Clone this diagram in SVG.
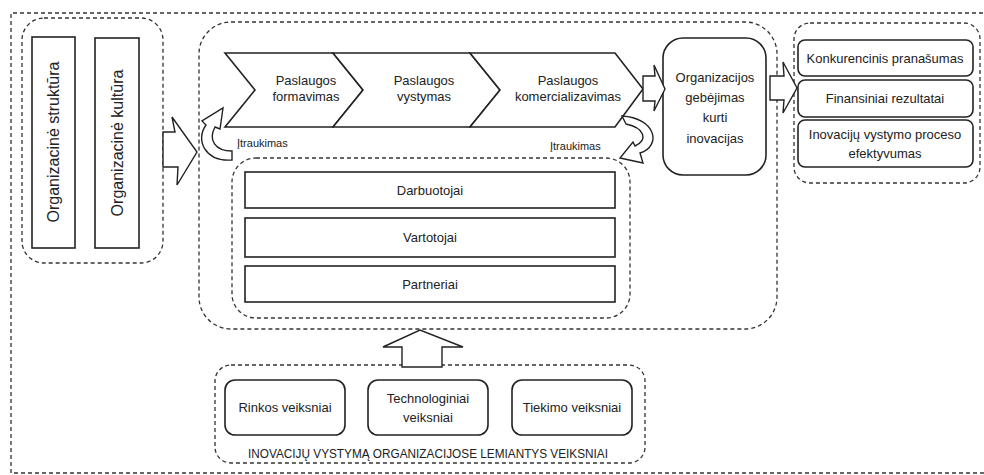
<svg xmlns="http://www.w3.org/2000/svg" width="984" height="475" viewBox="0 0 984 475">
<style>
.bg{fill:#ffffff}
.dash{fill:none;stroke:#333;stroke-width:1.3;stroke-dasharray:4 3}
.box{fill:#fff;stroke:#222;stroke-width:1.6}
.arr{fill:#fff;stroke:#222;stroke-width:1.4;stroke-linejoin:miter}
text{font-family:"Liberation Sans",Arial,sans-serif;fill:#222;font-size:13px;text-anchor:middle}
.small{font-size:11px;text-anchor:start}
.vert{font-size:16px}
</style>
<rect class="bg" x="0" y="0" width="984" height="475"/>
<g id="frame">
<path class="dash" d="M 990 13 H 11 V 473 H 990"/>
</g>
<g id="org-factors">
<rect class="dash" x="22" y="18" width="141" height="245" rx="22"/>
<g id="struktura">
<rect class="box" x="32" y="37" width="43" height="211"/>
<text class="vert" transform="translate(59 142) rotate(-90)">Organizacinė struktūra</text>
</g>
<g id="kultura">
<rect class="box" x="95" y="38" width="44" height="210"/>
<text class="vert" transform="translate(123 143) rotate(-90)">Organizacinė kultūra</text>
</g>
</g>
<g id="process-group">
<rect class="dash" x="199" y="22" width="578" height="307" rx="32"/>
</g>
<g id="formavimas">
<polygon class="box" points="225,53 333,53 363,90 333,127 225,127 255,90"/>
<text x="306" y="85">Paslaugos</text>
<text x="306" y="101">formavimas</text>
</g>
<g id="vystymas">
<polygon class="box" points="333,53 470,53 500,90 470,127 333,127 363,90"/>
<text x="424" y="85">Paslaugos</text>
<text x="424" y="101">vystymas</text>
</g>
<g id="komercializavimas">
<polygon class="box" points="470,53 615,53 643,89 615,127 470,127 500,90"/>
<text x="568" y="85">Paslaugos</text>
<text x="568" y="101">komercializavimas</text>
</g>
<g id="gebejimas">
<rect class="box" x="663" y="38" width="103" height="137" rx="20"/>
<text x="715" y="82">Organizacijos</text>
<text x="715" y="102">gebėjimas</text>
<text x="715" y="122">kurti</text>
<text x="715" y="143">inovacijas</text>
</g>
<g id="participants">
<rect class="dash" x="232" y="158" width="398" height="160" rx="24"/>
<g id="darbuotojai">
<rect class="box" x="245" y="172" width="370" height="36"/>
<text x="430" y="195">Darbuotojai</text>
</g>
<g id="vartotojai">
<rect class="box" x="245" y="218" width="370" height="39"/>
<text x="430" y="242">Vartotojai</text>
</g>
<g id="partneriai">
<rect class="box" x="245" y="266" width="370" height="36"/>
<text x="430" y="289">Partneriai</text>
</g>
</g>
<g id="results">
<rect class="dash" x="794" y="23" width="186" height="160" rx="16"/>
<g id="konkurencinis">
<rect class="box" x="798" y="40" width="175" height="36" rx="7"/>
<text x="885" y="63">Konkurencinis pranašumas</text>
</g>
<g id="finansiniai">
<rect class="box" x="798" y="80" width="175" height="37" rx="7"/>
<text x="885" y="103">Finansiniai rezultatai</text>
</g>
<g id="efektyvumas">
<rect class="box" x="798" y="120" width="175" height="47" rx="7"/>
<text x="885" y="139">Inovacijų vystymo proceso</text>
<text x="885" y="158">efektyvumas</text>
</g>
</g>
<g id="external-factors">
<rect class="dash" x="215" y="365" width="430" height="98" rx="16"/>
<g id="rinkos">
<rect class="box" x="225" y="380" width="120" height="55" rx="10"/>
<text x="285" y="412">Rinkos veiksniai</text>
</g>
<g id="technologiniai">
<rect class="box" x="368" y="380" width="120" height="55" rx="10"/>
<text x="428" y="403">Technologiniai</text>
<text x="428" y="422">veiksniai</text>
</g>
<g id="tiekimo">
<rect class="box" x="512" y="380" width="120" height="55" rx="10"/>
<text x="572" y="412">Tiekimo veiksniai</text>
</g>
<text x="428" y="458" font-size="12" textLength="360" lengthAdjust="spacingAndGlyphs">INOVACIJŲ VYSTYMĄ ORGANIZACIJOSE LEMIANTYS VEIKSNIAI</text>
</g>
<g id="connectors">
<polygon class="arr" points="163,132 175,132 172,117 197,152 177,185 178,167 163,167"/>
<polygon class="arr" points="643,76 655,76 654,65 665,89 654,111 655,101 643,101"/>
<polygon class="arr" points="770,76 784,76 783,62 797,88 783,113 784,100 770,100"/>
<polygon class="arr" points="402,367 402,347 383,347 420,330 463,347 442,347 442,367"/>
<path class="arr" d="M 232 160 C 205 162 195 140 206 125 L 202 121 L 223 108 L 220 129 L 215 127 C 208 140 215 151 232 151 Z"/>
<path class="arr" d="M 622 116 C 656 118 662 146 640 153 L 643 163 L 620 158 L 633 142 L 635 146 C 648 140 645 128 626 124 Z"/>
<text class="small" x="237" y="147">Įtraukimas</text>
<text class="small" x="550" y="150">Įtraukimas</text>
</g>
</svg>
